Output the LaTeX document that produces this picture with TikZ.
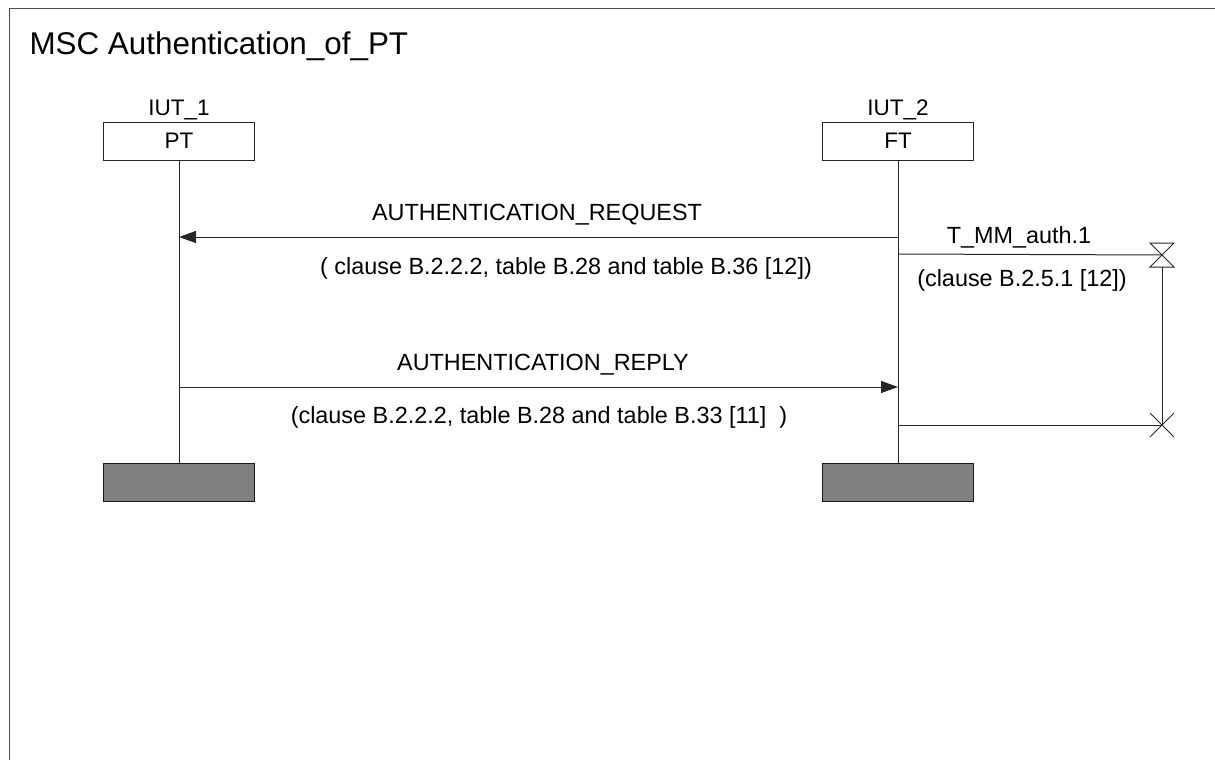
\documentclass[tikz,border=0pt]{standalone}
\usepackage{fontspec}
\setmainfont{Liberation Sans}
\usetikzlibrary{arrows.meta}
\begin{document}
\begin{tikzpicture}[x=1pt,y=-1pt,
  line width=1pt,
  ln/.style={draw=black!85},
  lbl/.style={anchor=base,inner sep=0pt,font=\fontsize{23.4}{28}\selectfont},
  ilbl/.style={anchor=base,inner sep=0pt,font=\fontsize{22.5}{27}\selectfont},
  ttl/.style={anchor=base west,inner sep=0pt,font=\fontsize{31.4}{36}\selectfont},
  headbox/.style={draw=black!85,line width=1pt,minimum width=151pt,minimum height=38pt,inner sep=0pt,font=\fontsize{22.5}{27}\selectfont},
  endbox/.style={draw=black!90,fill=black!50,line width=1pt,minimum width=151pt,minimum height=38pt,inner sep=0pt},
  msgarrow/.style={ln,-{Triangle[length=17pt,width=12pt]}},
]
\useasboundingbox (0,0) rectangle (1215,760);
% frame (right and bottom edges lie outside the picture)
\draw[draw=black!70] (1215,9) -- (9,9) -- (9,760);
\node[ttl] (title) at (29,55) {MSC Authentication\_of\_PT};

% instances
\node[ilbl] (iut1) at (179,115) {IUT\_1};
\node[ilbl] (iut2) at (898,115) {IUT\_2};
\node[headbox] (pt) at (179,141) {PT};
\node[headbox] (ft) at (898,141) {FT};
\node[endbox] (ptend) at (179,482) {};
\node[endbox] (ftend) at (898,482) {};
\draw[ln] (pt.south) -- (ptend.north);
\draw[ln] (ft.south) -- (ftend.north);

% message points
\coordinate (reqs) at (898,237);
\coordinate (reqe) at (179,237);
\coordinate (reps) at (179,387);
\coordinate (repe) at (898,387);

\draw[msgarrow] (reqs) -- (reqe);
\node[lbl] (reql) at (537,220) {AUTHENTICATION\_REQUEST};
\node[lbl] (reqc) at (566,274) {( clause B.2.2.2, table B.28 and table B.36 [12])};

\draw[msgarrow] (reps) -- (repe);
\node[lbl] (repl) at (543,370) {AUTHENTICATION\_REPLY};
\node[lbl] (repc) at (539,423) {(clause B.2.2.2, table B.28 and table B.33 [11]~~)};

% timer
\coordinate (tsa) at (898,254);
\coordinate (tset) at (1162,255);
\coordinate (tso) at (898,425);
\coordinate (tstop) at (1162,425);
\draw[ln] (tsa) -- (tset);
\draw[ln] ([shift={(-12,-12)}]tset) -- ([shift={(12,-12)}]tset) -- ([shift={(-12,12)}]tset) -- ([shift={(12,12)}]tset) -- cycle;
\draw[ln] ([shift={(0,12)}]tset) -- (tstop);
\draw[ln] (tso) -- (tstop);
\draw[ln] ([shift={(-12,-12)}]tstop) -- ([shift={(12,12)}]tstop);
\draw[ln] ([shift={(-12,12)}]tstop) -- ([shift={(12,-12)}]tstop);
\node[lbl] (tl) at (1019,243) {T\_MM\_auth.1};
\node[lbl] (tc) at (1022,286) {(clause B.2.5.1 [12])};
\end{tikzpicture}
\end{document}
